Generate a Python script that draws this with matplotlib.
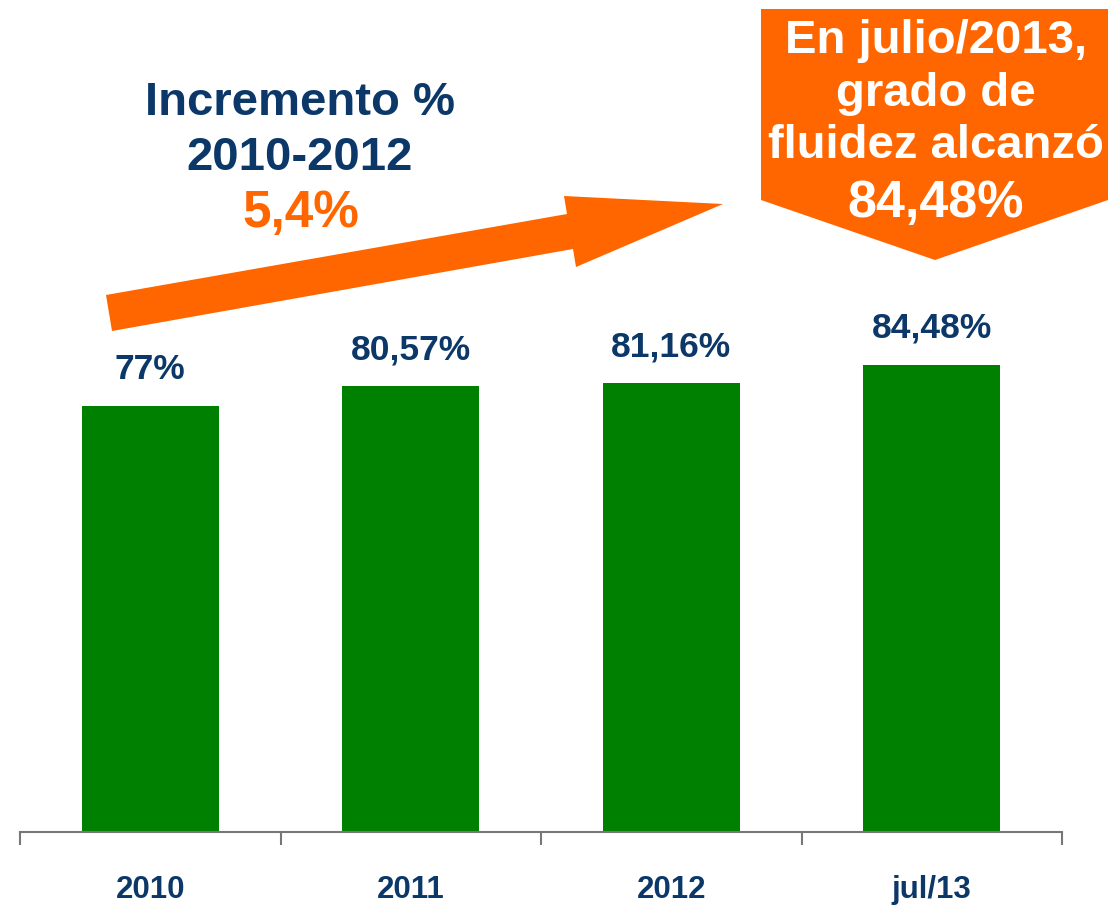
import matplotlib
matplotlib.use("Agg")
import matplotlib.pyplot as plt
from matplotlib.patches import Polygon

plt.rcParams['font.family'] = ['Liberation Sans', 'DejaVu Sans']

categories = ["2010", "2011", "2012", "jul/13"]
values = [77.0, 80.57, 81.16, 84.48]
value_labels = ["77%", "80,57%", "81,16%", "84,48%"]

W, H = 1113, 908
fig = plt.figure(figsize=(W / 100, H / 100), dpi=100)
fig.patch.set_facecolor("white")

ax_left, ax_right, ax_base = 20, 1062, 832
ymax = 100
ax_height_px = 553
ax = fig.add_axes([ax_left / W, (H - ax_base) / H, (ax_right - ax_left) / W, ax_height_px / H])

navy = "#0b3868"
orange = "#ff6600"
green = "#008000"

x = list(range(len(categories)))
ax.bar(x, values, width=0.526, color=green, zorder=2)
ax.set_xlim(-0.5, len(categories) - 0.5)
ax.set_ylim(0, ymax)

for xi, v, lab in zip(x, values, value_labels):
    ax.annotate(lab, (xi, v), xytext=(0, 19.5), textcoords="offset points",
                ha="center", va="baseline", fontsize=25.5, fontweight="bold", color=navy)

for s in ["top", "right", "left"]:
    ax.spines[s].set_visible(False)
ax.spines["bottom"].set_color("#777777")
ax.spines["bottom"].set_linewidth(1.5)
ax.set_yticks([])
ax.set_xticks([i - 0.5 for i in range(len(categories) + 1)])
ax.set_xticklabels([])
ax.tick_params(axis="x", length=9, width=1.5, color="#777777", direction="out")

# category labels (baseline at y=898 px)
ytick_lab = (ax_base - 898) / ax_height_px
for xi, c in zip(x, categories):
    ax.text(xi, ytick_lab, c, transform=ax.get_xaxis_transform(), ha="center",
            va="baseline", fontsize=22.5, fontweight="bold", color=navy, clip_on=False)

def px(pts):
    return [(p[0] / W, (H - p[1]) / H) for p in pts]

# Trend arrow
arrow_pts = [(106, 295), (567, 214), (564, 196), (723, 204), (576, 267), (573, 249), (112, 331)]
fig.patches.append(Polygon(px(arrow_pts), closed=True, transform=fig.transFigure,
                           facecolor=orange, edgecolor="none", zorder=3))

# Callout box
callout_pts = [(761, 9), (1108, 9), (1108, 200), (935, 260), (761, 200)]
fig.patches.append(Polygon(px(callout_pts), closed=True, transform=fig.transFigure,
                           facecolor=orange, edgecolor="none", zorder=3))

callout_lines = ["En julio/2013,", "grado de", "fluidez alcanzó", "84,48%"]
callout_base = [53, 106, 158, 217]
callout_size = [34, 34, 34, 37.5]
for t, yy, fs in zip(callout_lines, callout_base, callout_size):
    fig.text(936 / W, (H - yy) / H, t, ha="center", va="baseline", fontsize=fs,
             fontweight="bold", color="white", zorder=4)

fig.text(300 / W, (H - 115) / H, "Incremento %", ha="center", va="baseline",
         fontsize=34, fontweight="bold", color=navy)
fig.text(300 / W, (H - 170) / H, "2010-2012", ha="center", va="baseline",
         fontsize=34, fontweight="bold", color=navy)
fig.text(301 / W, (H - 227) / H, "5,4%", ha="center", va="baseline",
         fontsize=37, fontweight="bold", color=orange)

fig.savefig("out.png", dpi=100, facecolor="white")
